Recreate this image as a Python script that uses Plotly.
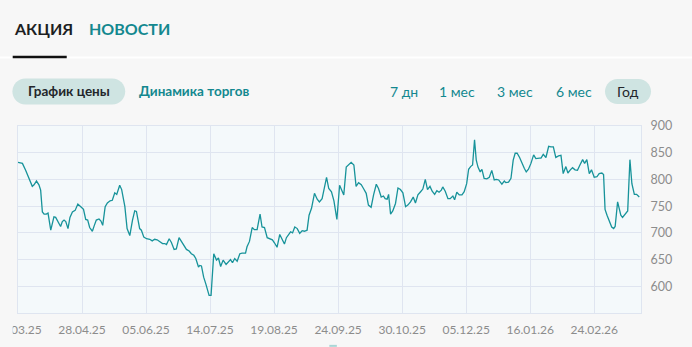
import plotly.graph_objects as go

# ---- data: trading-day index and closing price ----
day = [0, 1.8, 3.1, 4.5, 5.8, 6.5, 7.5, 8.5, 9.2, 9.9, 10.6, 11.5, 12.2, 13.3, 14.0, 14.6, 15.3,
       16.4, 17.3, 18.0, 18.7, 19.4, 20.3, 21.1, 22.1, 23.2, 24.3, 25.5, 26.6, 27.5, 28.3, 29.1,
       30.2, 31.0, 31.8, 32.9, 33.7, 34.4, 35.4, 36.3, 37.4, 38.3, 39.3, 40.1, 41.3, 42.1,
       43.4, 44.3, 45.4, 46.5, 47.4, 48.1, 48.8, 49.4, 50.1, 51.1, 52.2, 53.5, 54.5, 55.5, 56.5,
       57.6, 58.7, 59.6, 60.3, 61.4, 62.3, 63.4, 64.3, 65.4, 66.4, 67.5, 68.4, 69.5, 70.4, 71.4,
       72.2, 73.3, 73.8, 74.5, 75.4, 76.3, 77.1, 77.6, 78.4, 79.5, 80.6, 81.4, 82.3, 83.3,
       84.5, 85.2, 86.3, 87.1, 88.0, 89.0, 90.1, 91.0, 92.4, 93.0, 94.0, 95.1, 96.0, 97.1, 98.3,
       99.1, 100.1, 101.2, 102.3, 103.3, 104.2, 105.2, 106.3, 107.3, 108.2, 109.0, 110.0, 110.7,
       111.5, 112.4, 113.4, 114.4, 115.4, 116.3, 117.4, 118.2, 119.2, 120.4, 121.5, 122.4, 123.5,
       124.5, 125.3, 126.2, 127.3,
       128.3, 128.8, 129.5, 130.6, 131.5, 132.3, 133.3, 134.2, 135.3, 136.4, 137.3, 138.3, 139.4,
       140.3, 141.4, 142.3, 143.4, 144.4, 145.5, 146.4, 147.5, 148.4, 149.1, 149.9, 150.5, 151.3,
       152.2, 153.3, 154.3, 155.3, 156.3, 157.4, 158.3, 159.4, 160.5, 161.4, 162.4, 163.5, 164.4,
       165.4, 166.3, 167.3, 168.2, 169.2,
       170.1, 171.0, 171.9, 172.5, 173.5, 174.6, 175.5, 176.6, 177.3, 178.2, 179.2, 180.3, 181.2,
       182.2, 183.0, 183.8, 184.6, 185.4, 186.1, 186.8, 187.7, 188.4, 189.3, 190.4, 191.4, 192.4,
       193.4, 194.2, 195.2, 196.5, 197.5, 198.1, 199.2, 200.2, 201.1, 201.9, 202.7, 203.7, 204.6,
       205.6, 206.4, 207.3, 208.3, 209.4, 210.3, 211.1, 211.8,
       212.4, 213.3, 214.4, 215.5, 216.4, 217.4, 218.4, 219.5, 220.5, 221.4, 222.5, 223.3, 224.3,
       225.2, 226.2, 227.2, 228.2, 229.3, 230.1, 231.0, 232.0, 232.9, 234.0, 235.1, 236.0, 237.1,
       237.8, 238.4, 239.2, 240.1, 241.1, 241.9, 242.5, 243.5, 244.2, 244.8, 245.5, 246.5, 247.6,
       248.5, 249.3, 250.3, 251.2, 252.3]

price = [832, 830, 817, 802, 787, 790, 797, 790, 780, 739, 735, 735, 737, 705, 721, 730, 729,
         719, 712, 721, 724, 721, 708, 729, 739, 742, 754, 749, 744, 725, 724, 710,
         703, 714, 724, 726, 722, 714, 749, 756, 760, 761, 775, 772, 789, 781,
         749, 708, 695, 724, 741, 740, 721, 708, 705, 692, 689, 688, 685, 688, 687,
         683, 680, 680, 678, 689, 682, 669, 670, 691, 683, 676, 669, 666, 661, 658,
         652, 636, 639, 638, 617, 604, 589, 583, 583, 661, 649, 653, 637, 649,
         641, 645, 650, 644, 652, 647, 661, 662, 662, 674, 684, 710, 706, 706, 735,
         711, 710, 691, 689, 687, 681, 673, 697, 689, 679, 691, 699, 702,
         700, 711, 708, 699, 704, 703, 705, 733, 746, 774, 763, 758, 764,
         787, 804, 783, 777,
         760, 746, 725, 789, 781, 771, 823, 827, 832, 827, 787, 794, 790,
         783, 774, 752, 748, 771, 791, 783, 767, 769, 764, 763, 772, 735,
         741, 755, 784, 781, 775, 749, 752, 758, 767, 756, 771, 777, 782,
         800, 781, 787, 778, 772,
         779, 776, 780, 786, 778, 764, 764, 769, 762, 776, 771, 771, 777,
         792, 819, 824, 827, 874, 836, 823, 814, 819, 802, 801, 804, 817,
         799, 800, 799, 791, 797, 794, 795, 802, 836, 849, 849, 841, 830,
         821, 814, 819, 830, 846, 839, 840, 840,
         840, 847, 841, 862, 861, 861, 841, 844, 845, 811, 824, 812, 818,
         822, 818, 817, 827, 837, 830, 837, 811, 818, 804, 805, 811, 812,
         809, 744, 733, 721, 711, 708, 712, 758, 742, 733, 729, 735, 741,
         837, 792, 772, 772, 767]

tick_days = [0, 26, 52, 78, 104, 130, 156, 182, 208, 234]
tick_labels = ["20.03.25", "28.04.25", "05.06.25", "14.07.25", "19.08.25",
               "24.09.25", "30.10.25", "05.12.25", "16.01.26", "24.02.26"]
y_ticks = [600, 650, 700, 750, 800, 850, 900]

periods = ["7 дн", "1 мес", "3 мес", "6 мес", "Год"]

# ---- layout helpers (pixel -> paper) ----
W, H = 692, 347
L, R, T, B = 18.3, 641.0, 126.0, 312.7


def px(x):
    return (x - L) / (R - L)


def py(y):
    return (B - y) / (B - T)


def pill(x0, y0, x1, y1):
    r = (y1 - y0) / 2
    k = 0.5523 * r
    ym = (y0 + y1) / 2
    pts = [("M", [(x0 + r, y0)]),
           ("L", [(x1 - r, y0)]),
           ("C", [(x1 - r + k, y0), (x1, ym - k), (x1, ym)]),
           ("C", [(x1, ym + k), (x1 - r + k, y1), (x1 - r, y1)]),
           ("L", [(x0 + r, y1)]),
           ("C", [(x0 + r - k, y1), (x0, ym + k), (x0, ym)]),
           ("C", [(x0, ym - k), (x0 + r - k, y0), (x0 + r, y0)])]
    s = ""
    for cmd, ps in pts:
        s += cmd + " " + " ".join(f"{px(a):.5f},{py(b):.5f}" for a, b in ps) + " "
    return s + "Z"


TEAL = "#13888f"
DARK = "#23262b"
GRID = "#dfe5f0"
PILL = "#cfe4e2"
PAPER = "#f7f7f7"

fig = go.Figure()
fig.add_trace(go.Scatter(x=day, y=price, mode="lines",
                         line=dict(color="#17939a", width=1.3),
                         hoverinfo="skip", showlegend=False))

shapes = [
    # white separator under tabs
    dict(type="line", xref="paper", yref="paper", x0=px(0), x1=px(W), y0=py(57.5), y1=py(57.5),
         line=dict(color="#ffffff", width=2)),
    # active tab underline
    dict(type="line", xref="paper", yref="paper", x0=px(13), x1=px(67), y0=py(57), y1=py(57),
         line=dict(color="#111111", width=2.5)),
    dict(type="path", xref="paper", yref="paper", path=pill(12.7, 78.5, 125.5, 104.5),
         fillcolor=PILL, line=dict(width=0)),
    dict(type="path", xref="paper", yref="paper", path=pill(605, 79, 651, 104),
         fillcolor=PILL, line=dict(width=0)),
    # small indicator at bottom
    dict(type="line", xref="paper", yref="paper", x0=px(329.5), x1=px(337), y0=py(345.5), y1=py(345.5),
         line=dict(color="#a9d6d6", width=2)),
    # container clipping at the left edge of the chart block
    dict(type="rect", xref="paper", yref="paper", x0=px(-2), x1=px(13), y0=py(340), y1=py(315),
         fillcolor=PAPER, line=dict(width=0), layer="above"),
]

ann = []
FONT = "Lato"
ann.append(dict(text="<b>АКЦИЯ</b>", x=px(12.5), y=py(29), xanchor="left", yanchor="middle",
                font=dict(family=FONT, size=16, color="#1d1f23")))
ann.append(dict(text="<b>НОВОСТИ</b>", x=px(87.5), y=py(29), xanchor="left", yanchor="middle",
                font=dict(family=FONT, size=16, color=TEAL)))
ann.append(dict(text="<b>График цены</b>", x=px(69), y=py(91.5), xanchor="center", yanchor="middle",
                font=dict(family=FONT, size=13.5, color=DARK)))
ann.append(dict(text="<b>Динамика торгов</b>", x=px(137.5), y=py(91.5), xanchor="left", yanchor="middle",
                font=dict(family=FONT, size=13.5, color=TEAL)))
period_x = [404, 457.5, 515.5, 574.5, 628]
for lbl, cx in zip(periods, period_x):
    ann.append(dict(text=lbl, x=px(cx), y=py(91.5), xanchor="center", yanchor="middle",
                    font=dict(family=FONT, size=14, color=DARK if lbl == "Год" else TEAL)))
for a in ann:
    a.update(xref="paper", yref="paper", showarrow=False)

fig.update_layout(
    width=W, height=H,
    margin=dict(l=L, r=W - R, t=T, b=H - B, pad=0),
    paper_bgcolor=PAPER,
    plot_bgcolor="#f4f9fb",
    shapes=shapes,
    annotations=ann,
    xaxis=dict(range=[0, 253], tickmode="array", tickvals=tick_days, ticktext=tick_labels,
               showgrid=True, gridcolor=GRID, gridwidth=1, zeroline=False,
               showline=True, linecolor=GRID, linewidth=1, mirror=True, ticks="",
               tickfont=dict(family=FONT, size=12, color="#8c8c8c"), ticklabelstandoff=6,
               ticklabeloverflow="allow", automargin=False, fixedrange=True),
    yaxis=dict(range=[550, 900], side="right", tickmode="array", tickvals=y_ticks,
               showgrid=True, gridcolor=GRID, gridwidth=1, zeroline=False,
               showline=True, linecolor=GRID, linewidth=1, mirror=True, ticks="",
               tickfont=dict(family=FONT, size=12.5, color="#8c8c8c"), ticklabelstandoff=6,
               automargin=False, fixedrange=True),
    hovermode=False,
)

fig.write_html("out.html", config={"displayModeBar": False})
